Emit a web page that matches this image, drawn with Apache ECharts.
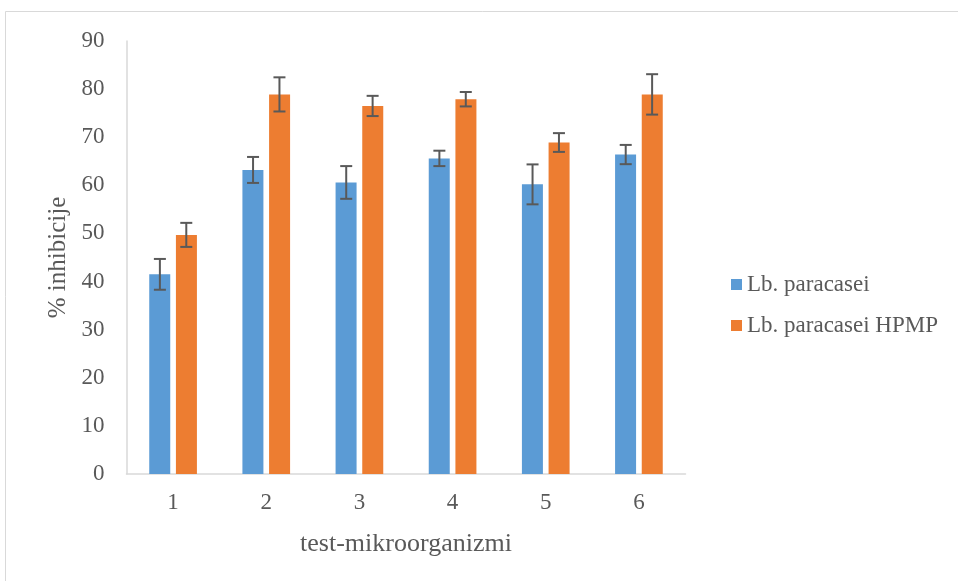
<!DOCTYPE html>
<html>
<head>
<meta charset="utf-8">
<script src="https://cdn.jsdelivr.net/npm/echarts@6/dist/echarts.min.js"></script>
<style>html,body{margin:0;padding:0;background:#fff;}#chart{width:958px;height:581px;}</style>
</head>
<body>
<div id="chart"></div>
<script>
const categories = ['1', '2', '3', '4', '5', '6'];
const seriesNames = ['Lb. paracasei', 'Lb. paracasei HPMP'];
const valuesA = [41.5, 63.2, 60.6, 65.6, 60.2, 66.4];
const errorsA = [3.2, 2.7, 3.4, 1.6, 4.15, 2.0];
const valuesB = [49.7, 78.9, 76.5, 77.9, 68.9, 78.9];
const errorsB = [2.5, 3.55, 2.1, 1.5, 1.95, 4.2];
const yTicks = [0, 10, 20, 30, 40, 50, 60, 70, 80, 90];

const FONT = '"Liberation Serif", "Times New Roman", serif';
const TXT = '#595959';

function errSeries(values, errors, offset) {
  return {
    type: 'custom',
    silent: true,
    z: 10,
    data: values.map((v, i) => [i, v, errors[i]]),
    renderItem: function (params, api) {
      const i = api.value(0), v = api.value(1), e = api.value(2);
      const hi = api.coord([i, v + e]);
      const lo = api.coord([i, v - e]);
      const x = hi[0] + offset;
      const cap = 6;
      const st = { stroke: '#595959', lineWidth: 2 };
      return {
        type: 'group',
        children: [
          { type: 'line', shape: { x1: x, y1: hi[1], x2: x, y2: lo[1] }, style: st },
          { type: 'line', shape: { x1: x - cap, y1: hi[1], x2: x + cap, y2: hi[1] }, style: st },
          { type: 'line', shape: { x1: x - cap, y1: lo[1], x2: x + cap, y2: lo[1] }, style: st }
        ]
      };
    }
  };
}

const chart = echarts.init(document.getElementById('chart'));
chart.setOption({
  animation: false,
  backgroundColor: '#fff',
  graphic: [{
    type: 'rect', silent: true,
    shape: { x: 5.5, y: 11.5, width: 1200, height: 1200 },
    style: { fill: 'none', stroke: '#d9d9d9', lineWidth: 1 }
  }],
  grid: { left: 126.5, right: 272.5, top: 41, bottom: 107 },
  legend: {
    orient: 'vertical',
    left: 726, top: 268,
    itemWidth: 11, itemHeight: 11, itemGap: 18,
    icon: 'rect',
    textStyle: { fontFamily: FONT, fontSize: 23, color: TXT },
    data: seriesNames
  },
  xAxis: {
    type: 'category',
    data: categories,
    name: 'test-mikroorganizmi',
    nameLocation: 'middle',
    nameGap: 57,
    nameTextStyle: { fontFamily: FONT, fontSize: 26, color: TXT },
    axisLine: { lineStyle: { color: '#d9d9d9', width: 1.5 } },
    axisTick: { show: false },
    axisLabel: { fontFamily: FONT, fontSize: 23, color: TXT, margin: 17 }
  },
  yAxis: {
    type: 'value',
    min: 0, max: 90, interval: 10,
    name: '% inhibicije',
    nameLocation: 'middle',
    nameGap: 52,
    nameRotate: 90,
    nameTextStyle: { fontFamily: FONT, fontSize: 25, color: TXT },
    axisLine: { show: true, lineStyle: { color: '#d9d9d9', width: 1.5 } },
    axisTick: { show: false },
    splitLine: { show: false },
    axisLabel: { fontFamily: FONT, fontSize: 23, color: TXT, margin: 22,
      formatter: v => yTicks.includes(v) ? String(v) : '' }
  },
  series: [
    { name: seriesNames[0], type: 'bar', data: valuesA, barWidth: 21, barGap: '27%',
      itemStyle: { color: '#5B9BD5' } },
    { name: seriesNames[1], type: 'bar', data: valuesB, barWidth: 21,
      itemStyle: { color: '#ED7D31' } },
    errSeries(valuesA, errorsA, -13.2),
    errSeries(valuesB, errorsB, 13.2)
  ]
});
</script>
</body>
</html>
